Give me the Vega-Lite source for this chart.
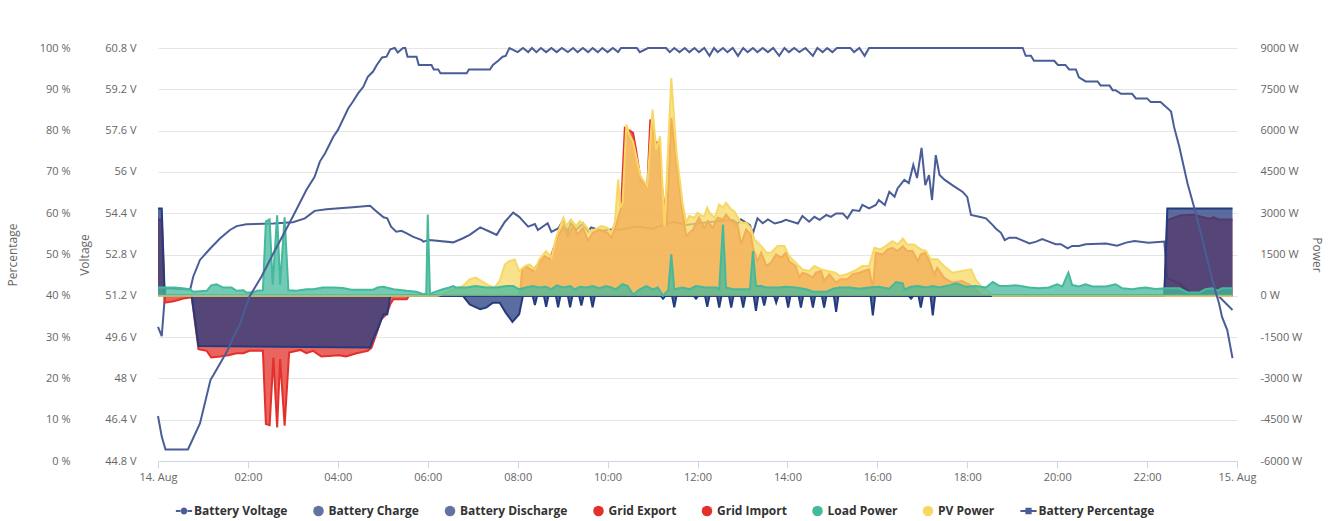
{
"$schema": "https://vega.github.io/schema/vega-lite/v6.json",
"width": 1079, "height": 413,
"autosize": {"type": "none"},
"padding": {"left": 158, "top": 48, "right": 106, "bottom": 60},
"background": "white",
"config": {"font": "Open Sans", "view": {"stroke": null},
 "axis": {"labelFont": "Open Sans", "titleFont": "Open Sans", "labelColor": "#666666", "titleColor": "#666666", "labelFontSize": 11, "titleFontSize": 12, "titleFontWeight": "normal"}},
"datasets": {
"pct": [
{"t":"2024-08-14T00:00","v":10.9},{"t":"2024-08-14T00:05","v":5.9},{"t":"2024-08-14T00:10","v":2.8},{"t":"2024-08-14T00:40","v":2.8},{"t":"2024-08-14T00:56","v":9.1},{"t":"2024-08-14T01:10","v":19.6},{"t":"2024-08-14T01:14","v":20.8},{"t":"2024-08-14T01:32","v":26.5},{"t":"2024-08-14T01:45","v":31.7},{"t":"2024-08-14T01:49","v":32.9},{"t":"2024-08-14T02:02","v":39.8},{"t":"2024-08-14T02:18","v":44.6},{"t":"2024-08-14T02:34","v":50.3},{"t":"2024-08-14T02:47","v":54.7},{"t":"2024-08-14T03:00","v":59.2},{"t":"2024-08-14T03:18","v":65.6},{"t":"2024-08-14T03:29","v":68.8},{"t":"2024-08-14T03:36","v":72.5},{"t":"2024-08-14T03:43","v":74.5},{"t":"2024-08-14T03:54","v":78.5},{"t":"2024-08-14T04:00","v":80.1},{"t":"2024-08-14T04:14","v":85.4},{"t":"2024-08-14T04:20","v":87.0},{"t":"2024-08-14T04:27","v":89.0},{"t":"2024-08-14T04:34","v":90.6},{"t":"2024-08-14T04:40","v":93.0},{"t":"2024-08-14T04:47","v":94.3},{"t":"2024-08-14T04:52","v":95.9},{"t":"2024-08-14T04:59","v":97.7},{"t":"2024-08-14T05:05","v":97.9},{"t":"2024-08-14T05:10","v":99.7},{"t":"2024-08-14T05:16","v":100},{"t":"2024-08-14T05:20","v":98.9},{"t":"2024-08-14T05:27","v":100},{"t":"2024-08-14T05:30","v":100},{"t":"2024-08-14T05:33","v":97.9},{"t":"2024-08-14T05:45","v":97.9},{"t":"2024-08-14T05:48","v":95.9},{"t":"2024-08-14T06:05","v":95.9},{"t":"2024-08-14T06:08","v":94.8},{"t":"2024-08-14T06:14","v":94.8},{"t":"2024-08-14T06:17","v":93.9},{"t":"2024-08-14T06:52","v":93.9},{"t":"2024-08-14T06:55","v":94.8},{"t":"2024-08-14T07:23","v":94.8},{"t":"2024-08-14T07:27","v":95.9},{"t":"2024-08-14T07:34","v":96.9},{"t":"2024-08-14T07:40","v":97.9},{"t":"2024-08-14T07:44","v":98.1},{"t":"2024-08-14T07:49","v":100},
{"t":"2024-08-14T08:00","v":99.0},{"t":"2024-08-14T08:07","v":100},{"t":"2024-08-14T08:14","v":99.0},{"t":"2024-08-14T08:19","v":100},{"t":"2024-08-14T08:25","v":99.0},{"t":"2024-08-14T08:31","v":100},{"t":"2024-08-14T08:38","v":99.0},{"t":"2024-08-14T08:45","v":100},{"t":"2024-08-14T08:52","v":99.0},{"t":"2024-08-14T08:59","v":100},{"t":"2024-08-14T09:07","v":99.0},{"t":"2024-08-14T09:14","v":100},{"t":"2024-08-14T09:20","v":99.0},{"t":"2024-08-14T09:27","v":100},{"t":"2024-08-14T09:34","v":99.0},{"t":"2024-08-14T09:40","v":100},{"t":"2024-08-14T09:47","v":99.0},{"t":"2024-08-14T09:53","v":100},{"t":"2024-08-14T10:00","v":99.0},{"t":"2024-08-14T10:07","v":100},{"t":"2024-08-14T10:14","v":99.0},{"t":"2024-08-14T10:18","v":100},{"t":"2024-08-14T10:39","v":100},{"t":"2024-08-14T10:43","v":99.0},{"t":"2024-08-14T10:54","v":100},{"t":"2024-08-14T11:18","v":100},{"t":"2024-08-14T11:23","v":99.0},{"t":"2024-08-14T11:29","v":100},{"t":"2024-08-14T11:36","v":99.0},{"t":"2024-08-14T11:43","v":100},{"t":"2024-08-14T11:49","v":99.0},{"t":"2024-08-14T11:56","v":100},{"t":"2024-08-14T12:02","v":99.0},{"t":"2024-08-14T12:09","v":100},{"t":"2024-08-14T12:16","v":98.1},{"t":"2024-08-14T12:22","v":100},{"t":"2024-08-14T12:27","v":99.0},{"t":"2024-08-14T12:34","v":100},{"t":"2024-08-14T12:40","v":99.0},{"t":"2024-08-14T12:47","v":100},{"t":"2024-08-14T12:54","v":98.1},{"t":"2024-08-14T13:01","v":100},{"t":"2024-08-14T13:07","v":99.0},{"t":"2024-08-14T13:14","v":100},{"t":"2024-08-14T13:20","v":99.0},{"t":"2024-08-14T13:27","v":100},{"t":"2024-08-14T13:34","v":99.0},{"t":"2024-08-14T13:41","v":100},{"t":"2024-08-14T13:49","v":98.1},{"t":"2024-08-14T13:56","v":100},{"t":"2024-08-14T14:02","v":99.0},{"t":"2024-08-14T14:09","v":100},{"t":"2024-08-14T14:16","v":99.0},{"t":"2024-08-14T14:24","v":100},{"t":"2024-08-14T14:34","v":98.1},{"t":"2024-08-14T14:40","v":100},{"t":"2024-08-14T14:47","v":99.0},{"t":"2024-08-14T14:53","v":100},{"t":"2024-08-14T15:00","v":99.0},{"t":"2024-08-14T15:06","v":100},{"t":"2024-08-14T15:24","v":100},{"t":"2024-08-14T15:29","v":99.0},{"t":"2024-08-14T15:36","v":100},{"t":"2024-08-14T15:43","v":98.1},{"t":"2024-08-14T15:49","v":100},
{"t":"2024-08-14T19:14","v":100},{"t":"2024-08-14T19:18","v":98.1},{"t":"2024-08-14T19:25","v":98.1},{"t":"2024-08-14T19:29","v":96.9},{"t":"2024-08-14T19:56","v":96.9},{"t":"2024-08-14T20:01","v":95.9},{"t":"2024-08-14T20:11","v":95.9},{"t":"2024-08-14T20:16","v":94.8},{"t":"2024-08-14T20:25","v":94.8},{"t":"2024-08-14T20:29","v":92.9},{"t":"2024-08-14T20:38","v":91.9},{"t":"2024-08-14T20:54","v":91.9},{"t":"2024-08-14T20:58","v":90.9},{"t":"2024-08-14T21:10","v":90.9},{"t":"2024-08-14T21:14","v":89.8},{"t":"2024-08-14T21:18","v":89.8},{"t":"2024-08-14T21:25","v":88.9},{"t":"2024-08-14T21:40","v":88.9},{"t":"2024-08-14T21:45","v":87.8},{"t":"2024-08-14T22:00","v":87.8},{"t":"2024-08-14T22:05","v":86.9},{"t":"2024-08-14T22:18","v":86.9},{"t":"2024-08-14T22:25","v":85.8},{"t":"2024-08-14T22:32","v":84.6},{"t":"2024-08-14T22:36","v":80.9},{"t":"2024-08-14T22:43","v":76.1},{"t":"2024-08-14T22:54","v":67.2},{"t":"2024-08-14T23:05","v":60.0},{"t":"2024-08-14T23:14","v":53.5},{"t":"2024-08-14T23:25","v":45.4},{"t":"2024-08-14T23:32","v":40.6},{"t":"2024-08-14T23:36","v":38.2},{"t":"2024-08-14T23:40","v":34.9},{"t":"2024-08-14T23:47","v":31.7},{"t":"2024-08-14T23:54","v":24.9}
],
"volt": [
{"t":"2024-08-14T00:00","v":50.0},{"t":"2024-08-14T00:05","v":49.64},{"t":"2024-08-14T00:10","v":51.5},{"t":"2024-08-14T00:43","v":51.45},{"t":"2024-08-14T00:47","v":51.94},{"t":"2024-08-14T00:56","v":52.59},{"t":"2024-08-14T01:10","v":53.04},{"t":"2024-08-14T01:23","v":53.43},{"t":"2024-08-14T01:36","v":53.75},{"t":"2024-08-14T01:45","v":53.9},{"t":"2024-08-14T01:58","v":53.97},{"t":"2024-08-14T02:34","v":54.0},{"t":"2024-08-14T03:00","v":54.05},{"t":"2024-08-14T03:16","v":54.2},{"t":"2024-08-14T03:29","v":54.49},{"t":"2024-08-14T03:45","v":54.55},{"t":"2024-08-14T04:02","v":54.59},{"t":"2024-08-14T04:20","v":54.63},{"t":"2024-08-14T04:43","v":54.69},{"t":"2024-08-14T04:52","v":54.46},{"t":"2024-08-14T05:01","v":54.24},{"t":"2024-08-14T05:06","v":54.2},{"t":"2024-08-14T05:11","v":53.88},{"t":"2024-08-14T05:18","v":53.68},{"t":"2024-08-14T05:25","v":53.72},{"t":"2024-08-14T05:32","v":53.62},{"t":"2024-08-14T05:40","v":53.49},{"t":"2024-08-14T05:52","v":53.36},{"t":"2024-08-14T05:54","v":53.3},{"t":"2024-08-14T06:02","v":53.36},{"t":"2024-08-14T06:34","v":53.27},{"t":"2024-08-14T06:47","v":53.43},{"t":"2024-08-14T06:56","v":53.56},{"t":"2024-08-14T07:10","v":53.85},{"t":"2024-08-14T07:23","v":53.68},{"t":"2024-08-14T07:32","v":53.56},{"t":"2024-08-14T07:43","v":54.07},{"t":"2024-08-14T07:54","v":54.42},{"t":"2024-08-14T08:02","v":54.26},{"t":"2024-08-14T08:14","v":53.88},{"t":"2024-08-14T08:23","v":53.98},{"t":"2024-08-14T08:27","v":53.75},{"t":"2024-08-14T08:40","v":54.01},{"t":"2024-08-14T08:45","v":53.68},{"t":"2024-08-14T08:54","v":53.81},{"t":"2024-08-14T09:01","v":54.14},{"t":"2024-08-14T09:07","v":53.68},{"t":"2024-08-14T09:11","v":54.01},{"t":"2024-08-14T09:18","v":53.75},{"t":"2024-08-14T09:27","v":54.01},{"t":"2024-08-14T09:34","v":53.68},{"t":"2024-08-14T09:38","v":53.85},{"t":"2024-08-14T09:52","v":53.72},{"t":"2024-08-14T10:05","v":53.77},{"t":"2024-08-14T10:16","v":53.75},{"t":"2024-08-14T10:38","v":53.88},{"t":"2024-08-14T11:00","v":53.8},{"t":"2024-08-14T11:27","v":54.07},{"t":"2024-08-14T11:45","v":53.94},{"t":"2024-08-14T12:02","v":54.01},{"t":"2024-08-14T12:20","v":54.07},{"t":"2024-08-14T12:47","v":54.14},{"t":"2024-08-14T12:54","v":54.0},{"t":"2024-08-14T12:58","v":54.16},{"t":"2024-08-14T13:10","v":53.94},{"t":"2024-08-14T13:14","v":53.62},{"t":"2024-08-14T13:20","v":54.2},{"t":"2024-08-14T13:27","v":54.01},{"t":"2024-08-14T13:34","v":54.16},{"t":"2024-08-14T13:43","v":54.0},{"t":"2024-08-14T13:52","v":54.07},{"t":"2024-08-14T13:58","v":54.14},{"t":"2024-08-14T14:14","v":54.0},{"t":"2024-08-14T14:20","v":54.29},{"t":"2024-08-14T14:29","v":54.07},{"t":"2024-08-14T14:36","v":54.26},{"t":"2024-08-14T14:43","v":54.14},{"t":"2024-08-14T14:52","v":54.33},{"t":"2024-08-14T14:58","v":54.26},{"t":"2024-08-14T15:05","v":54.39},{"t":"2024-08-14T15:14","v":54.39},{"t":"2024-08-14T15:20","v":54.2},{"t":"2024-08-14T15:27","v":54.52},{"t":"2024-08-14T15:36","v":54.49},{"t":"2024-08-14T15:40","v":54.72},{"t":"2024-08-14T15:49","v":54.59},{"t":"2024-08-14T15:58","v":54.72},{"t":"2024-08-14T16:02","v":54.91},{"t":"2024-08-14T16:10","v":54.72},{"t":"2024-08-14T16:16","v":55.23},{"t":"2024-08-14T16:23","v":55.04},{"t":"2024-08-14T16:27","v":55.36},{"t":"2024-08-14T16:36","v":55.69},{"t":"2024-08-14T16:42","v":55.57},{"t":"2024-08-14T16:48","v":56.27},{"t":"2024-08-14T16:53","v":55.76},{"t":"2024-08-14T16:59","v":56.93},{"t":"2024-08-14T17:04","v":55.49},{"t":"2024-08-14T17:09","v":55.88},{"t":"2024-08-14T17:13","v":54.91},{"t":"2024-08-14T17:18","v":56.65},{"t":"2024-08-14T17:23","v":55.88},{"t":"2024-08-14T17:30","v":55.69},{"t":"2024-08-14T17:42","v":55.45},{"t":"2024-08-14T17:54","v":55.22},{"t":"2024-08-14T18:00","v":55.03},{"t":"2024-08-14T18:05","v":54.33},{"t":"2024-08-14T18:16","v":54.26},{"t":"2024-08-14T18:25","v":54.2},{"t":"2024-08-14T18:34","v":53.94},{"t":"2024-08-14T18:38","v":53.81},{"t":"2024-08-14T18:45","v":53.64},{"t":"2024-08-14T18:50","v":53.36},{"t":"2024-08-14T18:56","v":53.45},{"t":"2024-08-14T19:05","v":53.45},{"t":"2024-08-14T19:23","v":53.23},{"t":"2024-08-14T19:32","v":53.3},{"t":"2024-08-14T19:40","v":53.4},{"t":"2024-08-14T19:49","v":53.3},{"t":"2024-08-14T19:58","v":53.2},{"t":"2024-08-14T20:05","v":53.2},{"t":"2024-08-14T20:14","v":53.04},{"t":"2024-08-14T20:20","v":53.13},{"t":"2024-08-14T20:29","v":53.13},{"t":"2024-08-14T20:38","v":53.2},{"t":"2024-08-14T21:05","v":53.23},{"t":"2024-08-14T21:20","v":53.14},{"t":"2024-08-14T21:32","v":53.26},{"t":"2024-08-14T21:43","v":53.32},{"t":"2024-08-14T22:02","v":53.26},{"t":"2024-08-14T22:23","v":53.3},{"t":"2024-08-14T22:27","v":51.88},{"t":"2024-08-14T22:43","v":51.68},{"t":"2024-08-14T22:52","v":51.45},{"t":"2024-08-14T23:00","v":51.32},{"t":"2024-08-14T23:14","v":51.3},{"t":"2024-08-14T23:27","v":51.42},{"t":"2024-08-14T23:36","v":51.17},{"t":"2024-08-14T23:54","v":50.65}
],
"pv": [
{"t":"2024-08-14T00:00","v":0},{"t":"2024-08-14T06:12","v":0},{"t":"2024-08-14T06:16","v":20},{"t":"2024-08-14T06:34","v":235},{"t":"2024-08-14T06:47","v":355},{"t":"2024-08-14T06:56","v":600},{"t":"2024-08-14T07:04","v":660},{"t":"2024-08-14T07:11","v":540},{"t":"2024-08-14T07:23","v":355},{"t":"2024-08-14T07:29","v":300},{"t":"2024-08-14T07:36","v":540},{"t":"2024-08-14T07:43","v":1140},{"t":"2024-08-14T07:49","v":1260},{"t":"2024-08-14T07:56","v":1320},{"t":"2024-08-14T08:02","v":900},{"t":"2024-08-14T08:10","v":1080},{"t":"2024-08-14T08:16","v":1140},{"t":"2024-08-14T08:23","v":960},{"t":"2024-08-14T08:29","v":1320},{"t":"2024-08-14T08:38","v":1625},{"t":"2024-08-14T08:45","v":1380},{"t":"2024-08-14T08:52","v":2170},{"t":"2024-08-14T09:01","v":2835},{"t":"2024-08-14T09:05","v":2530},{"t":"2024-08-14T09:11","v":2775},{"t":"2024-08-14T09:18","v":2530},{"t":"2024-08-14T09:23","v":2710},{"t":"2024-08-14T09:29","v":2590},{"t":"2024-08-14T09:36","v":2350},{"t":"2024-08-14T09:43","v":2410},{"t":"2024-08-14T09:52","v":2530},{"t":"2024-08-14T10:00","v":2470},{"t":"2024-08-14T10:05","v":2290},{"t":"2024-08-14T10:10","v":2710},{"t":"2024-08-14T10:14","v":4225},{"t":"2024-08-14T10:17","v":3200},{"t":"2024-08-14T10:20","v":3380},{"t":"2024-08-14T10:25","v":6220},{"t":"2024-08-14T10:29","v":5855},{"t":"2024-08-14T10:34","v":5600},{"t":"2024-08-14T10:44","v":4345},{"t":"2024-08-14T10:53","v":3980},{"t":"2024-08-14T11:00","v":6760},{"t":"2024-08-14T11:05","v":5310},{"t":"2024-08-14T11:10","v":5795},{"t":"2024-08-14T11:16","v":2530},{"t":"2024-08-14T11:25","v":7910},{"t":"2024-08-14T11:32","v":5190},{"t":"2024-08-14T11:40","v":3380},{"t":"2024-08-14T11:45","v":2655},{"t":"2024-08-14T11:49","v":2895},{"t":"2024-08-14T11:56","v":2835},{"t":"2024-08-14T12:00","v":3015},{"t":"2024-08-14T12:06","v":2895},{"t":"2024-08-14T12:09","v":2895},{"t":"2024-08-14T12:13","v":3200},{"t":"2024-08-14T12:16","v":3015},{"t":"2024-08-14T12:23","v":2835},{"t":"2024-08-14T12:29","v":3320},{"t":"2024-08-14T12:34","v":3200},{"t":"2024-08-14T12:38","v":3380},{"t":"2024-08-14T12:45","v":3135},{"t":"2024-08-14T12:49","v":3075},{"t":"2024-08-14T12:58","v":2655},{"t":"2024-08-14T13:05","v":2655},{"t":"2024-08-14T13:11","v":2470},{"t":"2024-08-14T13:16","v":2050},{"t":"2024-08-14T13:25","v":1805},{"t":"2024-08-14T13:32","v":1565},{"t":"2024-08-14T13:38","v":1565},{"t":"2024-08-14T13:47","v":1805},{"t":"2024-08-14T13:56","v":1805},{"t":"2024-08-14T14:02","v":1445},{"t":"2024-08-14T14:11","v":1205},{"t":"2024-08-14T14:20","v":960},{"t":"2024-08-14T14:29","v":900},{"t":"2024-08-14T14:36","v":1080},{"t":"2024-08-14T14:45","v":960},{"t":"2024-08-14T14:54","v":900},{"t":"2024-08-14T15:04","v":840},{"t":"2024-08-14T15:10","v":720},{"t":"2024-08-14T15:18","v":770},{"t":"2024-08-14T15:29","v":900},{"t":"2024-08-14T15:40","v":1080},{"t":"2024-08-14T15:49","v":1080},{"t":"2024-08-14T15:56","v":1745},{"t":"2024-08-14T16:04","v":1685},{"t":"2024-08-14T16:11","v":1805},{"t":"2024-08-14T16:20","v":1985},{"t":"2024-08-14T16:27","v":1865},{"t":"2024-08-14T16:34","v":2075},{"t":"2024-08-14T16:40","v":1865},{"t":"2024-08-14T16:49","v":1865},{"t":"2024-08-14T16:58","v":1685},{"t":"2024-08-14T17:05","v":1625},{"t":"2024-08-14T17:11","v":1325},{"t":"2024-08-14T17:20","v":1325},{"t":"2024-08-14T17:29","v":1080},{"t":"2024-08-14T17:40","v":840},{"t":"2024-08-14T17:53","v":900},{"t":"2024-08-14T18:05","v":960},{"t":"2024-08-14T18:11","v":600},{"t":"2024-08-14T18:20","v":300},{"t":"2024-08-14T18:29","v":150},{"t":"2024-08-14T18:34","v":0},{"t":"2024-08-14T23:54","v":0}
],
"gexp": [
{"t":"2024-08-14T00:00","v":0},{"t":"2024-08-14T08:03","v":0},{"t":"2024-08-14T08:06","v":960},{"t":"2024-08-14T08:11","v":1080},{"t":"2024-08-14T08:20","v":900},{"t":"2024-08-14T08:27","v":1140},{"t":"2024-08-14T08:36","v":1440},{"t":"2024-08-14T08:43","v":1320},{"t":"2024-08-14T08:52","v":2050},{"t":"2024-08-14T09:01","v":2530},{"t":"2024-08-14T09:07","v":2170},{"t":"2024-08-14T09:14","v":2530},{"t":"2024-08-14T09:20","v":2230},{"t":"2024-08-14T09:27","v":2470},{"t":"2024-08-14T09:34","v":2000},{"t":"2024-08-14T09:40","v":2290},{"t":"2024-08-14T09:49","v":2400},{"t":"2024-08-14T10:00","v":2290},{"t":"2024-08-14T10:05","v":2110},{"t":"2024-08-14T10:11","v":2530},{"t":"2024-08-14T10:16","v":3000},{"t":"2024-08-14T10:18","v":3200},{"t":"2024-08-14T10:23","v":6100},{"t":"2024-08-14T10:31","v":5975},{"t":"2024-08-14T10:34","v":5915},{"t":"2024-08-14T10:38","v":5300},{"t":"2024-08-14T10:44","v":4225},{"t":"2024-08-14T10:53","v":3925},{"t":"2024-08-14T10:57","v":6400},{"t":"2024-08-14T11:04","v":5555},{"t":"2024-08-14T11:09","v":5600},{"t":"2024-08-14T11:12","v":4100},{"t":"2024-08-14T11:19","v":2530},{"t":"2024-08-14T11:25","v":6460},{"t":"2024-08-14T11:32","v":4830},{"t":"2024-08-14T11:40","v":3015},{"t":"2024-08-14T11:45","v":2170},{"t":"2024-08-14T11:54","v":2410},{"t":"2024-08-14T12:02","v":2835},{"t":"2024-08-14T12:09","v":2470},{"t":"2024-08-14T12:14","v":2710},{"t":"2024-08-14T12:20","v":2470},{"t":"2024-08-14T12:27","v":2835},{"t":"2024-08-14T12:34","v":2775},{"t":"2024-08-14T12:38","v":2955},{"t":"2024-08-14T12:45","v":2710},{"t":"2024-08-14T12:49","v":2655},{"t":"2024-08-14T12:54","v":2530},{"t":"2024-08-14T12:58","v":1865},{"t":"2024-08-14T13:05","v":2410},{"t":"2024-08-14T13:11","v":2230},{"t":"2024-08-14T13:14","v":1745},{"t":"2024-08-14T13:20","v":1260},{"t":"2024-08-14T13:25","v":1565},{"t":"2024-08-14T13:32","v":1080},{"t":"2024-08-14T13:38","v":1205},{"t":"2024-08-14T13:45","v":1505},{"t":"2024-08-14T13:52","v":1385},{"t":"2024-08-14T13:58","v":1565},{"t":"2024-08-14T14:02","v":1260},{"t":"2024-08-14T14:11","v":1080},{"t":"2024-08-14T14:16","v":660},{"t":"2024-08-14T14:20","v":840},{"t":"2024-08-14T14:27","v":780},{"t":"2024-08-14T14:34","v":660},{"t":"2024-08-14T14:38","v":840},{"t":"2024-08-14T14:45","v":900},{"t":"2024-08-14T14:49","v":540},{"t":"2024-08-14T14:56","v":780},{"t":"2024-08-14T15:05","v":480},{"t":"2024-08-14T15:11","v":600},{"t":"2024-08-14T15:20","v":600},{"t":"2024-08-14T15:27","v":780},{"t":"2024-08-14T15:36","v":840},{"t":"2024-08-14T15:49","v":960},{"t":"2024-08-14T15:54","v":240},{"t":"2024-08-14T15:58","v":1565},{"t":"2024-08-14T16:07","v":1505},{"t":"2024-08-14T16:14","v":1685},{"t":"2024-08-14T16:20","v":1745},{"t":"2024-08-14T16:27","v":1625},{"t":"2024-08-14T16:34","v":1805},{"t":"2024-08-14T16:40","v":1625},{"t":"2024-08-14T16:47","v":1625},{"t":"2024-08-14T16:54","v":1260},{"t":"2024-08-14T16:58","v":1505},{"t":"2024-08-14T17:05","v":1565},{"t":"2024-08-14T17:11","v":1140},{"t":"2024-08-14T17:16","v":780},{"t":"2024-08-14T17:20","v":1020},{"t":"2024-08-14T17:29","v":660},{"t":"2024-08-14T17:40","v":480},{"t":"2024-08-14T17:53","v":540},{"t":"2024-08-14T18:02","v":420},{"t":"2024-08-14T18:11","v":240},{"t":"2024-08-14T18:18","v":40},{"t":"2024-08-14T18:20","v":0},{"t":"2024-08-14T23:54","v":0}
],
"gimp": [
{"t":"2024-08-14T00:00","v":2770},{"t":"2024-08-14T00:05","v":2770},{"t":"2024-08-14T00:09","v":-250},{"t":"2024-08-14T00:21","v":-200},{"t":"2024-08-14T00:34","v":-100},{"t":"2024-08-14T00:43","v":-60},{"t":"2024-08-14T00:45","v":-60},{"t":"2024-08-14T00:54","v":-1940},{"t":"2024-08-14T01:05","v":-2000},{"t":"2024-08-14T01:11","v":-2240},{"t":"2024-08-14T01:23","v":-2205},{"t":"2024-08-14T01:34","v":-2157},{"t":"2024-08-14T01:45","v":-2085},{"t":"2024-08-14T01:54","v":-2085},{"t":"2024-08-14T02:02","v":-2000},{"t":"2024-08-14T02:20","v":-2000},{"t":"2024-08-14T02:24","v":-4660},{"t":"2024-08-14T02:29","v":-4700},{"t":"2024-08-14T02:34","v":-2240},{"t":"2024-08-14T02:39","v":-4780},{"t":"2024-08-14T02:43","v":-2300},{"t":"2024-08-14T02:49","v":-4720},{"t":"2024-08-14T02:55","v":-2060},{"t":"2024-08-14T03:10","v":-1965},{"t":"2024-08-14T03:18","v":-2085},{"t":"2024-08-14T03:27","v":-2000},{"t":"2024-08-14T03:38","v":-2205},{"t":"2024-08-14T04:02","v":-2157},{"t":"2024-08-14T04:11","v":-2205},{"t":"2024-08-14T04:25","v":-2085},{"t":"2024-08-14T04:40","v":-2000},{"t":"2024-08-14T04:45","v":-1880},{"t":"2024-08-14T04:52","v":-1335},{"t":"2024-08-14T04:58","v":-852},{"t":"2024-08-14T05:05","v":-670},{"t":"2024-08-14T05:10","v":-308},{"t":"2024-08-14T05:14","v":-127},{"t":"2024-08-14T05:32","v":-127},{"t":"2024-08-14T05:35","v":0},{"t":"2024-08-14T22:23","v":0},{"t":"2024-08-14T22:27","v":2750},{"t":"2024-08-14T22:44","v":2920},{"t":"2024-08-14T23:02","v":2945},{"t":"2024-08-14T23:23","v":2800},{"t":"2024-08-14T23:29","v":2850},{"t":"2024-08-14T23:36","v":2775},{"t":"2024-08-14T23:54","v":2775}
],
"chg": [
{"t":"2024-08-14T00:00","v":3170},{"t":"2024-08-14T00:05","v":3170},{"t":"2024-08-14T00:09","v":0},{"t":"2024-08-14T22:23","v":0},{"t":"2024-08-14T22:27","v":3170},{"t":"2024-08-14T23:54","v":3170}
],
"dis": [
{"t":"2024-08-14T00:09","v":0},{"t":"2024-08-14T00:45","v":0},{"t":"2024-08-14T00:54","v":-1820},{"t":"2024-08-14T03:18","v":-1856},{"t":"2024-08-14T04:43","v":-1880},{"t":"2024-08-14T04:47","v":-1577},{"t":"2024-08-14T04:53","v":-1215},{"t":"2024-08-14T05:01","v":-670},{"t":"2024-08-14T05:06","v":-670},{"t":"2024-08-14T05:10","v":0},{"t":"2024-08-14T06:47","v":0},{"t":"2024-08-14T06:56","v":-310},{"t":"2024-08-14T07:10","v":-490},{"t":"2024-08-14T07:18","v":-430},{"t":"2024-08-14T07:27","v":-250},{"t":"2024-08-14T07:36","v":-250},{"t":"2024-08-14T07:44","v":-610},{"t":"2024-08-14T07:53","v":-950},{"t":"2024-08-14T08:02","v":-670},{"t":"2024-08-14T08:07","v":0},
{"t":"2024-08-14T08:20","v":0},{"t":"2024-08-14T08:23","v":-330},{"t":"2024-08-14T08:26","v":0},
{"t":"2024-08-14T08:35","v":0},{"t":"2024-08-14T08:38","v":-400},{"t":"2024-08-14T08:41","v":0},
{"t":"2024-08-14T08:51","v":0},{"t":"2024-08-14T08:54","v":-420},{"t":"2024-08-14T08:57","v":0},
{"t":"2024-08-14T09:07","v":0},{"t":"2024-08-14T09:10","v":-420},{"t":"2024-08-14T09:13","v":0},
{"t":"2024-08-14T09:22","v":0},{"t":"2024-08-14T09:25","v":-350},{"t":"2024-08-14T09:28","v":0},
{"t":"2024-08-14T09:37","v":0},{"t":"2024-08-14T09:40","v":-420},{"t":"2024-08-14T09:43","v":0},
{"t":"2024-08-14T11:11","v":0},{"t":"2024-08-14T11:14","v":-100},{"t":"2024-08-14T11:17","v":0},
{"t":"2024-08-14T11:26","v":0},{"t":"2024-08-14T11:29","v":-420},{"t":"2024-08-14T11:32","v":0},
{"t":"2024-08-14T11:55","v":0},{"t":"2024-08-14T11:58","v":-100},{"t":"2024-08-14T12:01","v":0},
{"t":"2024-08-14T12:10","v":0},{"t":"2024-08-14T12:13","v":-400},{"t":"2024-08-14T12:16","v":0},
{"t":"2024-08-14T12:26","v":0},{"t":"2024-08-14T12:29","v":-430},{"t":"2024-08-14T12:32","v":0},
{"t":"2024-08-14T12:42","v":0},{"t":"2024-08-14T12:45","v":-430},{"t":"2024-08-14T12:48","v":0},
{"t":"2024-08-14T12:58","v":0},{"t":"2024-08-14T13:01","v":-430},{"t":"2024-08-14T13:04","v":0},
{"t":"2024-08-14T13:15","v":0},{"t":"2024-08-14T13:18","v":-550},{"t":"2024-08-14T13:21","v":0},
{"t":"2024-08-14T13:26","v":0},{"t":"2024-08-14T13:29","v":-350},{"t":"2024-08-14T13:32","v":0},
{"t":"2024-08-14T13:42","v":0},{"t":"2024-08-14T13:45","v":-250},{"t":"2024-08-14T13:48","v":0},
{"t":"2024-08-14T13:58","v":0},{"t":"2024-08-14T14:01","v":-430},{"t":"2024-08-14T14:04","v":0},
{"t":"2024-08-14T14:15","v":0},{"t":"2024-08-14T14:18","v":-430},{"t":"2024-08-14T14:21","v":0},
{"t":"2024-08-14T14:31","v":0},{"t":"2024-08-14T14:34","v":-430},{"t":"2024-08-14T14:37","v":0},
{"t":"2024-08-14T14:46","v":0},{"t":"2024-08-14T14:49","v":-430},{"t":"2024-08-14T14:52","v":0},
{"t":"2024-08-14T15:02","v":0},{"t":"2024-08-14T15:05","v":-580},{"t":"2024-08-14T15:08","v":0},
{"t":"2024-08-14T15:51","v":0},{"t":"2024-08-14T15:54","v":-710},{"t":"2024-08-14T15:57","v":0},
{"t":"2024-08-14T16:42","v":0},{"t":"2024-08-14T16:45","v":-100},{"t":"2024-08-14T16:48","v":0},
{"t":"2024-08-14T16:55","v":0},{"t":"2024-08-14T16:58","v":-430},{"t":"2024-08-14T17:01","v":0},
{"t":"2024-08-14T17:11","v":0},{"t":"2024-08-14T17:14","v":-710},{"t":"2024-08-14T17:17","v":0},
{"t":"2024-08-14T22:23","v":0}
],
"load": [
{"t":"2024-08-14T00:00","v":300},{"t":"2024-08-14T00:23","v":300},{"t":"2024-08-14T00:43","v":240},{"t":"2024-08-14T00:47","v":145},{"t":"2024-08-14T01:05","v":180},{"t":"2024-08-14T01:11","v":380},{"t":"2024-08-14T01:18","v":420},{"t":"2024-08-14T01:27","v":300},{"t":"2024-08-14T01:38","v":300},{"t":"2024-08-14T01:45","v":180},{"t":"2024-08-14T01:54","v":200},{"t":"2024-08-14T01:58","v":120},{"t":"2024-08-14T02:07","v":120},{"t":"2024-08-14T02:12","v":180},{"t":"2024-08-14T02:20","v":200},{"t":"2024-08-14T02:24","v":2700},{"t":"2024-08-14T02:29","v":2775},{"t":"2024-08-14T02:33","v":400},{"t":"2024-08-14T02:39","v":2920},{"t":"2024-08-14T02:43","v":400},{"t":"2024-08-14T02:49","v":2850},{"t":"2024-08-14T02:54","v":200},{"t":"2024-08-14T03:05","v":180},{"t":"2024-08-14T03:18","v":240},{"t":"2024-08-14T03:27","v":240},{"t":"2024-08-14T03:40","v":300},{"t":"2024-08-14T03:54","v":300},{"t":"2024-08-14T04:07","v":280},{"t":"2024-08-14T04:18","v":220},{"t":"2024-08-14T04:47","v":220},{"t":"2024-08-14T04:53","v":300},{"t":"2024-08-14T05:01","v":330},{"t":"2024-08-14T05:14","v":240},{"t":"2024-08-14T05:32","v":180},{"t":"2024-08-14T05:45","v":150},{"t":"2024-08-14T05:54","v":60},{"t":"2024-08-14T05:58","v":80},{"t":"2024-08-14T06:00","v":2950},{"t":"2024-08-14T06:03","v":60},{"t":"2024-08-14T06:07","v":115},{"t":"2024-08-14T06:20","v":235},{"t":"2024-08-14T06:29","v":300},{"t":"2024-08-14T06:34","v":355},{"t":"2024-08-14T06:38","v":300},{"t":"2024-08-14T06:52","v":300},{"t":"2024-08-14T07:04","v":355},{"t":"2024-08-14T07:18","v":300},{"t":"2024-08-14T07:32","v":300},{"t":"2024-08-14T07:45","v":355},{"t":"2024-08-14T07:54","v":355},{"t":"2024-08-14T08:02","v":235},{"t":"2024-08-14T08:11","v":300},{"t":"2024-08-14T08:20","v":355},{"t":"2024-08-14T08:29","v":300},{"t":"2024-08-14T08:38","v":330},{"t":"2024-08-14T08:45","v":235},{"t":"2024-08-14T08:52","v":380},{"t":"2024-08-14T09:01","v":300},{"t":"2024-08-14T09:10","v":355},{"t":"2024-08-14T09:16","v":235},{"t":"2024-08-14T09:23","v":330},{"t":"2024-08-14T09:32","v":300},{"t":"2024-08-14T09:40","v":355},{"t":"2024-08-14T09:49","v":280},{"t":"2024-08-14T09:58","v":355},{"t":"2024-08-14T10:05","v":300},{"t":"2024-08-14T10:11","v":235},{"t":"2024-08-14T10:20","v":420},{"t":"2024-08-14T10:27","v":355},{"t":"2024-08-14T10:34","v":40},{"t":"2024-08-14T10:43","v":235},{"t":"2024-08-14T10:52","v":355},{"t":"2024-08-14T11:00","v":235},{"t":"2024-08-14T11:07","v":300},{"t":"2024-08-14T11:14","v":0},{"t":"2024-08-14T11:21","v":200},{"t":"2024-08-14T11:25","v":1505},{"t":"2024-08-14T11:29","v":235},{"t":"2024-08-14T11:40","v":300},{"t":"2024-08-14T11:49","v":235},{"t":"2024-08-14T11:58","v":355},{"t":"2024-08-14T12:11","v":300},{"t":"2024-08-14T12:25","v":300},{"t":"2024-08-14T12:29","v":235},{"t":"2024-08-14T12:34","v":2590},{"t":"2024-08-14T12:38","v":300},{"t":"2024-08-14T12:47","v":235},{"t":"2024-08-14T13:05","v":235},{"t":"2024-08-14T13:10","v":235},{"t":"2024-08-14T13:14","v":1625},{"t":"2024-08-14T13:18","v":355},{"t":"2024-08-14T13:25","v":355},{"t":"2024-08-14T13:32","v":300},{"t":"2024-08-14T13:49","v":300},{"t":"2024-08-14T13:58","v":330},{"t":"2024-08-14T14:11","v":300},{"t":"2024-08-14T14:25","v":235},{"t":"2024-08-14T14:34","v":150},{"t":"2024-08-14T14:52","v":150},{"t":"2024-08-14T15:01","v":260},{"t":"2024-08-14T15:10","v":300},{"t":"2024-08-14T15:23","v":300},{"t":"2024-08-14T15:36","v":260},{"t":"2024-08-14T15:49","v":300},{"t":"2024-08-14T16:02","v":330},{"t":"2024-08-14T16:16","v":260},{"t":"2024-08-14T16:25","v":500},{"t":"2024-08-14T16:34","v":455},{"t":"2024-08-14T16:36","v":235},{"t":"2024-08-14T16:45","v":330},{"t":"2024-08-14T16:54","v":355},{"t":"2024-08-14T17:05","v":300},{"t":"2024-08-14T17:14","v":355},{"t":"2024-08-14T17:23","v":300},{"t":"2024-08-14T17:36","v":380},{"t":"2024-08-14T17:45","v":455},{"t":"2024-08-14T17:58","v":330},{"t":"2024-08-14T18:11","v":355},{"t":"2024-08-14T18:25","v":300},{"t":"2024-08-14T18:34","v":500},{"t":"2024-08-14T18:43","v":360},{"t":"2024-08-14T18:52","v":360},{"t":"2024-08-14T19:05","v":380},{"t":"2024-08-14T19:23","v":300},{"t":"2024-08-14T19:36","v":270},{"t":"2024-08-14T19:49","v":300},{"t":"2024-08-14T20:00","v":420},{"t":"2024-08-14T20:07","v":340},{"t":"2024-08-14T20:15","v":840},{"t":"2024-08-14T20:20","v":390},{"t":"2024-08-14T20:29","v":340},{"t":"2024-08-14T20:38","v":420},{"t":"2024-08-14T20:47","v":340},{"t":"2024-08-14T21:05","v":340},{"t":"2024-08-14T21:18","v":420},{"t":"2024-08-14T21:27","v":270},{"t":"2024-08-14T21:40","v":240},{"t":"2024-08-14T21:49","v":270},{"t":"2024-08-14T21:58","v":300},{"t":"2024-08-14T22:11","v":250},{"t":"2024-08-14T22:25","v":270},{"t":"2024-08-14T22:43","v":270},{"t":"2024-08-14T22:54","v":120},{"t":"2024-08-14T23:10","v":120},{"t":"2024-08-14T23:18","v":240},{"t":"2024-08-14T23:27","v":270},{"t":"2024-08-14T23:34","v":190},{"t":"2024-08-14T23:40","v":270},{"t":"2024-08-14T23:54","v":270}
]
},
"layer": [
{
 "data": {"name": "volt"},
 "mark": {"type": "line", "strokeWidth": 2},
 "encoding": {
  "x": {"field": "t", "type": "temporal", "title": null,
   "scale": {"domain": [{"year": 2024, "month": 8, "date": 14, "hours": 0}, {"year": 2024, "month": 8, "date": 15, "hours": 0}]},
   "axis": {"values": [{"year": 2024, "month": 8, "date": 14, "hours": 0}, {"year": 2024, "month": 8, "date": 14, "hours": 2}, {"year": 2024, "month": 8, "date": 14, "hours": 4}, {"year": 2024, "month": 8, "date": 14, "hours": 6}, {"year": 2024, "month": 8, "date": 14, "hours": 8}, {"year": 2024, "month": 8, "date": 14, "hours": 10}, {"year": 2024, "month": 8, "date": 14, "hours": 12}, {"year": 2024, "month": 8, "date": 14, "hours": 14}, {"year": 2024, "month": 8, "date": 14, "hours": 16}, {"year": 2024, "month": 8, "date": 14, "hours": 18}, {"year": 2024, "month": 8, "date": 14, "hours": 20}, {"year": 2024, "month": 8, "date": 14, "hours": 22}, {"year": 2024, "month": 8, "date": 15, "hours": 0}],
    "labelExpr": "hours(datum.value) == 0 ? timeFormat(datum.value, '%d. %b') : timeFormat(datum.value, '%H:%M')",
    "grid": false, "domainColor": "#ccd6eb", "tickColor": "#ccd6eb", "tickSize": 7, "labelPadding": 3, "labelFlush": false, "labelOverlap": false}},
  "y": {"field": "v", "type": "quantitative",
   "scale": {"domain": [44.8, 60.8], "nice": false, "zero": false},
   "axis": {"orient": "left", "title": "Voltage", "values": [44.8, 46.4, 48, 49.6, 51.2, 52.8, 54.4, 56, 57.6, 59.2, 60.8], "labelExpr": "datum.value + ' V'", "grid": false, "domain": false, "ticks": false, "labelPadding": 22, "titlePadding": 13}},
  "color": {"datum": "Battery Voltage",
   "scale": {"domain": ["Battery Voltage", "Battery Charge", "Battery Discharge", "Grid Export", "Grid Import", "Load Power", "PV Power", "Battery Percentage"],
    "range": ["#4a5d96", "#243c7f", "#243c7f", "#e3302b", "#e3302b", "#45b99c", "#f7d865", "#4a5d96"]},
   "legend": {"orient": "none", "legendX": 20, "legendY": 457, "direction": "horizontal", "columns": 8, "title": null,
    "labelFontSize": 12, "labelFontWeight": "bold", "labelColor": "#333333", "labelFont": "Open Sans", "symbolSize": 110, "columnPadding": 24.5, "symbolStrokeWidth": 0,
    "encode": {"symbols": {"update": {
     "shape": {"signal": "datum.value === 'Battery Voltage' ? 'M-1.55,-0.19H-0.7V0.19H-1.55Z M0.7,-0.19H1.55V0.19H0.7Z M-0.65,0A0.65,0.65 0 1,0 0.65,0A0.65,0.65 0 1,0 -0.65,0Z' : datum.value === 'Battery Percentage' ? 'M-1.55,-0.19H1.55V0.19H-1.55Z M-0.6,-0.6H0.6V0.6H-0.6Z' : 'circle'"},
     "fill": {"scale": "color", "field": "value"},
     "strokeWidth": {"value": 0},
     "opacity": {"signal": "datum.value === 'Battery Charge' || datum.value === 'Battery Discharge' ? 0.72 : 1"}}}}}}
 }
},
{
 "layer": [
  {"data": {"name": "gimp"}, "mark": {"type": "area", "fillOpacity": 0.75, "line": {"strokeWidth": 2}},
   "encoding": {"x": {"field": "t", "type": "temporal", "title": null},
    "y": {"field": "v", "type": "quantitative", "scale": {"domain": [-6000, 9000], "nice": false},
     "axis": {"orient": "right", "title": "Power", "values": [-6000, -4500, -3000, -1500, 0, 1500, 3000, 4500, 6000, 7500, 9000], "labelExpr": "datum.value + ' W'", "grid": true, "gridColor": "#e6e6e6", "domain": false, "ticks": false, "labelPadding": 23, "titlePadding": 8, "labelAlign": "left"}},
    "color": {"datum": "Grid Import"}}},
  {"data": {"name": "gexp"}, "mark": {"type": "area", "fillOpacity": 0.75, "line": {"strokeWidth": 2}},
   "encoding": {"x": {"field": "t", "type": "temporal", "title": null},
    "y": {"field": "v", "type": "quantitative", "scale": {"domain": [-6000, 9000], "nice": false},
     "axis": {"orient": "right", "title": "Power", "values": [-6000, -4500, -3000, -1500, 0, 1500, 3000, 4500, 6000, 7500, 9000], "labelExpr": "datum.value + ' W'", "grid": true, "gridColor": "#e6e6e6", "domain": false, "ticks": false, "labelPadding": 23, "titlePadding": 8, "labelAlign": "left"}},
    "color": {"datum": "Grid Export"}}},
  {"data": {"name": "chg"}, "mark": {"type": "area", "fillOpacity": 0.75, "line": {"strokeWidth": 2}},
   "encoding": {"x": {"field": "t", "type": "temporal", "title": null},
    "y": {"field": "v", "type": "quantitative", "scale": {"domain": [-6000, 9000], "nice": false},
     "axis": {"orient": "right", "title": "Power", "values": [-6000, -4500, -3000, -1500, 0, 1500, 3000, 4500, 6000, 7500, 9000], "labelExpr": "datum.value + ' W'", "grid": true, "gridColor": "#e6e6e6", "domain": false, "ticks": false, "labelPadding": 23, "titlePadding": 8, "labelAlign": "left"}},
    "color": {"datum": "Battery Charge"}}},
  {"data": {"name": "dis"}, "mark": {"type": "area", "fillOpacity": 0.75, "line": {"strokeWidth": 2}},
   "encoding": {"x": {"field": "t", "type": "temporal", "title": null},
    "y": {"field": "v", "type": "quantitative", "scale": {"domain": [-6000, 9000], "nice": false},
     "axis": {"orient": "right", "title": "Power", "values": [-6000, -4500, -3000, -1500, 0, 1500, 3000, 4500, 6000, 7500, 9000], "labelExpr": "datum.value + ' W'", "grid": true, "gridColor": "#e6e6e6", "domain": false, "ticks": false, "labelPadding": 23, "titlePadding": 8, "labelAlign": "left"}},
    "color": {"datum": "Battery Discharge"}}},
  {"data": {"name": "pv"}, "mark": {"type": "area", "fillOpacity": 0.75, "line": {"strokeWidth": 2}},
   "encoding": {"x": {"field": "t", "type": "temporal", "title": null},
    "y": {"field": "v", "type": "quantitative", "scale": {"domain": [-6000, 9000], "nice": false},
     "axis": {"orient": "right", "title": "Power", "values": [-6000, -4500, -3000, -1500, 0, 1500, 3000, 4500, 6000, 7500, 9000], "labelExpr": "datum.value + ' W'", "grid": true, "gridColor": "#e6e6e6", "domain": false, "ticks": false, "labelPadding": 23, "titlePadding": 8, "labelAlign": "left"}},
    "color": {"datum": "PV Power"}}},
  {"data": {"name": "load"}, "mark": {"type": "area", "fillOpacity": 0.75, "line": {"strokeWidth": 2}},
   "encoding": {"x": {"field": "t", "type": "temporal", "title": null},
    "y": {"field": "v", "type": "quantitative", "scale": {"domain": [-6000, 9000], "nice": false},
     "axis": {"orient": "right", "title": "Power", "values": [-6000, -4500, -3000, -1500, 0, 1500, 3000, 4500, 6000, 7500, 9000], "labelExpr": "datum.value + ' W'", "grid": true, "gridColor": "#e6e6e6", "domain": false, "ticks": false, "labelPadding": 23, "titlePadding": 8, "labelAlign": "left"}},
    "color": {"datum": "Load Power"}}}
 ]
},
{
 "data": {"name": "pct"},
 "mark": {"type": "line", "strokeWidth": 2},
 "encoding": {
  "x": {"field": "t", "type": "temporal", "title": null},
  "y": {"field": "v", "type": "quantitative",
   "scale": {"domain": [0, 100], "nice": false},
   "axis": {"orient": "left", "offset": 66, "title": "Percentage", "values": [0, 10, 20, 30, 40, 50, 60, 70, 80, 90, 100], "labelExpr": "datum.value + ' %'", "grid": false, "domain": false, "ticks": false, "labelPadding": 22, "titlePadding": 20}},
  "color": {"datum": "Battery Percentage"}
 }
}
],
"resolve": {"scale": {"y": "independent"}}
}
